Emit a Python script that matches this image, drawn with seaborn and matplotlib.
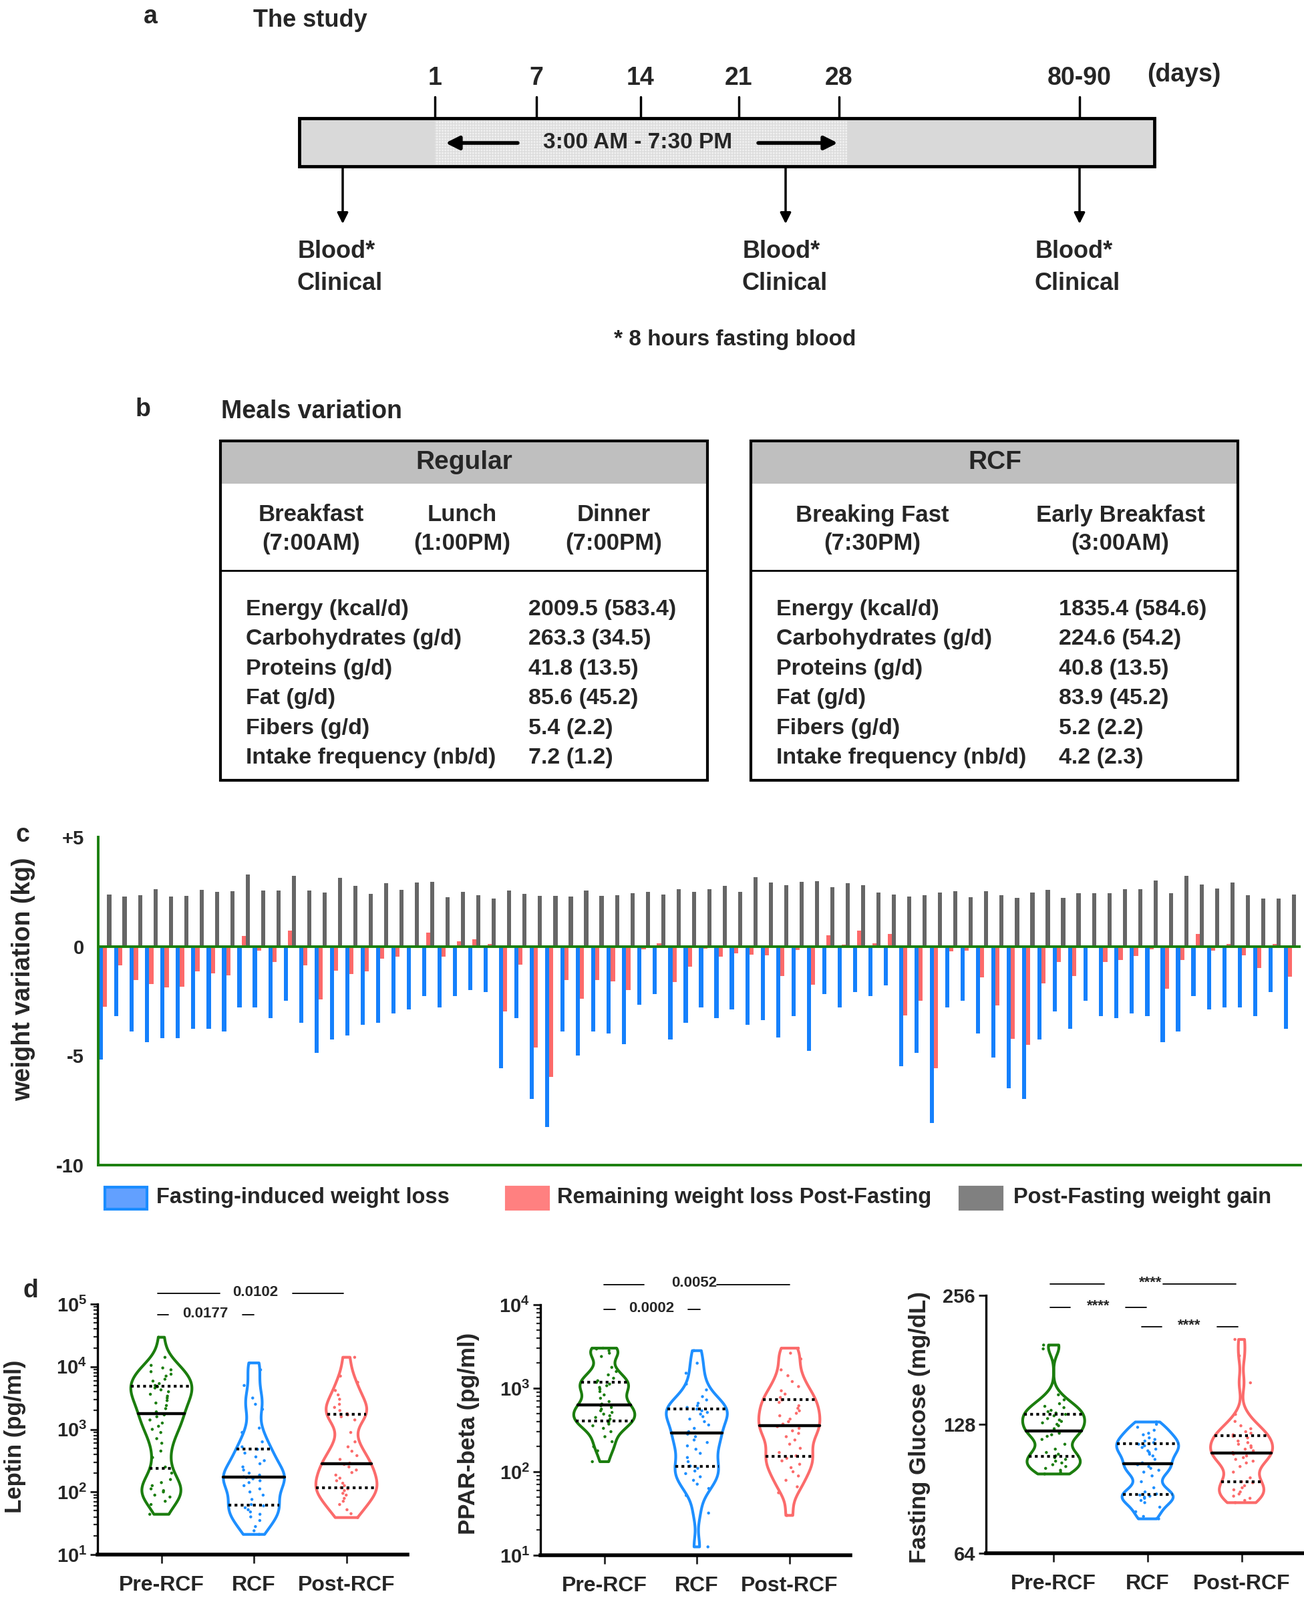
import matplotlib.pyplot as plt
import matplotlib.ticker as mticker
import numpy as np
import pandas as pd
import seaborn as sns
from matplotlib.patches import Rectangle


W, H = 1952, 2395

# ---- panel b: meals table ----
TABLE_ROWS = [
    "Energy (kcal/d)",
    "Carbohydrates (g/d)",
    "Proteins (g/d)",
    "Fat (g/d)",
    "Fibers (g/d)",
    "Intake frequency (nb/d)",
]
REGULAR_VALUES = ["2009.5 (583.4)", "263.3 (34.5)", "41.8 (13.5)", "85.6 (45.2)", "5.4 (2.2)", "7.2 (1.2)"]
RCF_VALUES = ["1835.4 (584.6)", "224.6 (54.2)", "40.8 (13.5)", "83.9 (45.2)", "5.2 (2.2)", "4.2 (2.3)"]
REGULAR_MEALS = [("Breakfast", "(7:00AM)"), ("Lunch", "(1:00PM)"), ("Dinner", "(7:00PM)")]
RCF_MEALS = [("Breaking Fast", "(7:30PM)"), ("Early Breakfast", "(3:00AM)")]

# ---- panel a: timeline ----
DAY_LABELS = ["1", "7", "14", "21", "28", "80-90"]

# ---- panel c: weight variation per participant (kg) ----
FASTING_LOSS = [
    -5.17, -3.18, -3.88, -4.37, -4.19, -4.19, -3.78, -3.78, -3.88, -2.78,
    -2.78, -3.28, -2.48, -3.48, -4.87, -4.27, -4.08, -3.57, -3.48, -3.07,
    -2.89, -2.28, -2.78, -2.28, -1.99, -2.09, -5.57, -3.28, -6.97, -8.26,
    -3.88, -4.98, -3.88, -3.98, -4.48, -2.68, -2.19, -4.27, -3.48, -2.78,
    -3.28, -2.89, -3.58, -3.38, -4.17, -3.18, -4.78, -2.19, -2.78, -2.09,
    -2.28, -1.79, -5.48, -4.87, -8.09, -2.78, -2.48, -3.98, -5.08, -6.48,
    -6.98, -4.27, -2.98, -3.78, -2.48, -3.18, -3.28, -3.08, -3.18, -4.38,
    -3.88, -2.28, -2.89, -2.78, -2.78, -3.18, -2.09, -3.78,
]
REMAINING_LOSS = [
    -2.77, -0.87, -1.53, -1.73, -1.86, -1.84, -1.15, -1.23, -1.32, 0.48,
    -0.20, -0.70, 0.73, -0.86, -2.42, -1.10, -1.27, -1.14, -0.55, -0.47,
    0.05, 0.64, -0.48, 0.22, 0.33, 0.10, -2.98, -0.83, -4.62, -5.96,
    -1.53, -2.40, -1.53, -1.60, -2.00, -0.14, 0.15, -1.64, -0.93, -0.10,
    -0.47, -0.33, -0.37, -0.42, -1.36, -0.17, -1.76, 0.50, 0.09, 0.71,
    0.15, 0.56, -3.17, -2.49, -5.58, -0.23, -0.19, -1.42, -2.71, -4.24,
    -4.49, -1.68, -0.71, -1.34, 0.00, -0.72, -0.62, -0.45, -0.13, -1.95,
    -0.61, 0.57, -0.20, 0.12, -0.42, -0.98, 0.10, -1.38,
]
WEIGHT_GAIN = [
    2.37, 2.28, 2.33, 2.63, 2.28, 2.31, 2.60, 2.50, 2.52, 3.29,
    2.56, 2.55, 3.23, 2.57, 2.45, 3.15, 2.77, 2.40, 2.90, 2.59,
    2.91, 2.94, 2.25, 2.50, 2.34, 2.19, 2.56, 2.40, 2.31, 2.31,
    2.28, 2.56, 2.31, 2.34, 2.44, 2.49, 2.37, 2.61, 2.49, 2.63,
    2.77, 2.50, 3.16, 2.92, 2.80, 2.96, 2.98, 2.70, 2.89, 2.80,
    2.46, 2.36, 2.28, 2.34, 2.46, 2.52, 2.25, 2.52, 2.34, 2.22,
    2.46, 2.58, 2.23, 2.42, 2.44, 2.44, 2.62, 2.61, 3.02, 2.42,
    3.23, 2.84, 2.64, 2.92, 2.35, 2.19, 2.20, 2.37,
]
COMPONENTS = ["Fasting-induced weight loss", "Remaining weight loss Post-Fasting", "Post-Fasting weight gain"]
BAR_COLORS = {COMPONENTS[0]: "#1580fc", COMPONENTS[1]: "#fd6a6a", COMPONENTS[2]: "#666666"}
LEGEND_FILLS = ["#62a0ff", "#ff8080", "#808080"]
LEGEND_EDGES = ["#1a8cff", "#ff8080", "#808080"]

# ---- panel d: biomarkers ----
GROUPS = ["Pre-RCF", "RCF", "Post-RCF"]
VIOLIN_COLORS = {"Pre-RCF": "#1b7d0e", "RCF": "#1e8fff", "Post-RCF": "#fb6b6b"}

LEPTIN_PRE = [44, 63, 71, 83, 89, 100, 105, 112, 126, 141, 158, 200, 250, 355, 450, 600,
              710, 890, 1000, 1120, 1260, 1410, 1590, 1700, 1900, 2140, 2400, 2630, 2880,
              3160, 3390, 3630, 3980, 4270, 4570, 4790, 5010, 5370, 5890, 6310, 7080, 7590,
              8320, 8910, 9550, 10500, 14100, 29500]
LEPTIN_RCF = [21, 24, 28, 35, 40, 44, 48, 52, 56, 60, 63, 76, 89, 100, 112, 126, 141, 151,
              162, 170, 174, 186, 200, 224, 251, 282, 316, 363, 417, 479, 525, 631, 891,
              1047, 2089, 2512, 3162, 5012, 8913, 11480]
LEPTIN_POST = [39, 45, 52, 63, 71, 79, 89, 95, 105, 112, 117, 126, 138, 151, 166, 186, 204,
               224, 251, 275, 288, 331, 380, 447, 525, 631, 891, 1413, 1585, 1698, 1778,
               1995, 2239, 2512, 3020, 3548, 4169, 5623, 7079, 14125]

PPAR_PRE = [132, 178, 200, 229, 263, 302, 331, 355, 372, 389, 407, 427, 447, 468, 490, 513,
            537, 562, 589, 617, 646, 692, 759, 832, 912, 977, 1023, 1072, 1122, 1175, 1230,
            1318, 1445, 1585, 1778, 2399, 2630, 2818, 2951, 3020]
PPAR_RCF = [12.6, 32, 52, 63, 71, 79, 87, 95, 102, 110, 117, 132, 148, 166, 186, 204, 224,
            240, 263, 282, 302, 331, 363, 398, 427, 457, 490, 513, 537, 562, 589, 617, 661,
            724, 794, 955, 1122, 1514, 1995, 2818]
PPAR_POST = [30, 56, 66, 79, 89, 100, 112, 123, 135, 145, 155, 170, 191, 214, 240, 263, 288,
             309, 331, 347, 372, 398, 427, 468, 501, 537, 575, 617, 676, 724, 776, 851, 933,
             1047, 1202, 1413, 1660, 2239, 2630, 3020]

GLUCOSE_PRE = [98, 99, 100, 101, 102, 103, 104, 105, 106, 107, 108, 109, 110, 112, 115, 118,
               120, 121, 122, 123, 124, 125, 127, 128, 129, 130, 131, 132, 134, 135, 136, 137,
               138, 140, 141, 143, 146, 150, 192, 196]
GLUCOSE_RCF = [77, 78, 80, 82, 84, 85, 86, 86.5, 87, 87.5, 88, 89, 91, 94, 97, 99, 100, 101,
               102, 103, 104, 106, 108, 109, 110, 111, 112, 113, 114, 115, 116, 117, 118, 119,
               121, 122, 124, 126, 128, 129.6]
GLUCOSE_POST = [84, 85, 86, 87, 88, 89, 90, 91, 92, 93.5, 94, 96, 99, 102, 104, 105, 106, 107,
                108, 109, 110, 111, 112, 113, 114, 115, 116, 117, 119, 120, 121, 122, 123, 125,
                127, 130, 135, 160, 185, 202]

GREEN = "#1a7f0c"

sns.set_theme(style="white")
plt.rcParams["font.family"] = ["Liberation Sans", "DejaVu Sans"]
plt.rcParams["font.weight"] = "bold"
plt.rcParams["axes.labelweight"] = "bold"
plt.rcParams["mathtext.fontset"] = "custom"
plt.rcParams["mathtext.rm"] = "Liberation Sans:bold"
plt.rcParams["mathtext.bf"] = "Liberation Sans:bold"

fig = plt.figure(figsize=(W / 100, H / 100), dpi=100)

# overlay axes in pixel coordinates for the diagram parts
ov = fig.add_axes([0, 0, 1, 1])
ov.set_xlim(0, W)
ov.set_ylim(H, 0)
ov.axis("off")


def txt(x, y, s, size, ha="left", **kw):
    ov.text(x, y, s, fontsize=size, ha=ha, va="center", fontweight="bold", **kw)


# ===== panel a =====
txt(225, 25, "a", 27, ha="center")
txt(379, 31, "The study", 26)
day_x = [651, 803, 959, 1106, 1256, 1616]
for label, x in zip(DAY_LABELS, day_x):
    txt(x, 117, label, 27, ha="center")
    ov.plot([x, x], [145, 177], color="black", lw=2.5)
txt(1772, 112, "(days)", 27, ha="center")
ov.add_patch(Rectangle((448, 177), 1280, 72, facecolor="#d9d9d9", edgecolor="black", lw=3.5, zorder=2))
ov.add_patch(Rectangle((651, 180), 617, 66, facecolor="#f0f0f0", edgecolor="#dcdcdc",
                       hatch="++++", lw=0, zorder=2))
txt(955, 214, "3:00 AM - 7:30 PM", 24, ha="center", zorder=3)
arrow_kw = dict(arrowstyle="-|>", color="black", lw=4, mutation_scale=30, shrinkA=0, shrinkB=0)
ov.annotate("", xy=(667, 214), xytext=(775, 214), arrowprops=arrow_kw, zorder=3)
ov.annotate("", xy=(1254, 214), xytext=(1135, 214), arrowprops=arrow_kw, zorder=3)
down_kw = dict(arrowstyle="-|>", color="black", lw=2.5, mutation_scale=24, shrinkA=0, shrinkB=0)
for x, tx in [(513, 446), (1176, 1112), (1616, 1550)]:
    ov.annotate("", xy=(x, 335), xytext=(x, 251), arrowprops=down_kw)
    txt(tx, 376, "Blood*", 26)
    txt(tx - 1, 425, "Clinical", 26)
txt(1100, 508, "* 8 hours fasting blood", 24, ha="center")

# ===== panel b =====
txt(214, 613, "b", 27, ha="center")
txt(331, 616, "Meals variation", 27)
for bx, title, meals, meal_x, values, val_x in [
    (330, "Regular", REGULAR_MEALS, [466, 692, 919], REGULAR_VALUES, 791),
    (1124, "RCF", RCF_MEALS, [1306, 1677], RCF_VALUES, 1585),
]:
    ov.add_patch(Rectangle((bx, 660), 729, 64, facecolor="#bfbfbf", edgecolor="none"))
    ov.add_patch(Rectangle((bx, 660), 729, 508, facecolor="none", edgecolor="black", lw=3))
    ov.plot([bx, bx + 729], [854, 854], color="black", lw=2)
    txt(bx + 365, 692, title, 28, ha="center")
    for (name, time), mx in zip(meals, meal_x):
        txt(mx, 771, name, 25, ha="center")
        txt(mx, 813, time, 25, ha="center")
    for k, (row, val) in enumerate(zip(TABLE_ROWS, values)):
        y = 912 + k * 44.6
        txt(bx + 38, y, row, 24.5)
        txt(val_x, y, val, 24.5)

# ===== panel c =====
n = len(FASTING_LOSS)
weight_df = pd.DataFrame({
    "participant": np.tile(np.arange(n), 3),
    "component": np.repeat(COMPONENTS, n),
    "kg": FASTING_LOSS + REMAINING_LOSS + WEIGHT_GAIN,
})
axc = fig.add_axes([147 / W, 1 - 1744 / H, 1800 / W, 491 / H])
axc.set_facecolor("none")
sns.barplot(data=weight_df, x="participant", y="kg", hue="component", hue_order=COMPONENTS,
            palette=BAR_COLORS, width=0.8, dodge=True, errorbar=None, saturation=1,
            legend=False, linewidth=0, ax=axc)
axc.axhline(0, color=GREEN, lw=2.8, zorder=5)
axc.set_xlim(-0.45, n - 0.3)
axc.set_ylim(-10, 5)
axc.set_xticks([])
axc.set_xlabel("")
axc.set_yticks(np.arange(-10, 6))
axc.set_yticklabels(["+5" if v == 5 else (str(v) if v % 5 == 0 else "") for v in range(-10, 6)])
axc.tick_params(axis="y", length=9, width=2.2, color=GREEN, labelsize=21, pad=6, direction="out")
for side in ["top", "right"]:
    axc.spines[side].set_visible(False)
for side in ["left", "bottom"]:
    axc.spines[side].set_color(GREEN)
    axc.spines[side].set_linewidth(2.8)
axc.set_ylabel("weight variation (kg)", fontsize=27, fontweight="bold")
axc.yaxis.set_label_coords(-0.052, 0.566)
txt(34, 1250, "c", 27, ha="center")

legend_x = [(157, 234), (758, 834), (1437, 1517)]
for (px, tx), label, fc, ec in zip(legend_x, COMPONENTS, LEGEND_FILLS, LEGEND_EDGES):
    ov.add_patch(Rectangle((px, 1777), 63, 33, facecolor=fc, edgecolor=ec, lw=3))
    txt(tx, 1793, label, 23.5)


# ===== panel d =====
def violin_panel(rect, groups, log_base, ylim, ylabel, label_xy):
    ax = fig.add_axes(rect)
    ax.set_facecolor("none")
    df = pd.DataFrame({
        "group": np.repeat(GROUPS, [len(g) for g in groups]),
        "value": np.concatenate(groups),
    })
    sns.stripplot(data=df, x="group", y="value", hue="group", palette=VIOLIN_COLORS,
                  size=3.2, jitter=0.13, log_scale=log_base, legend=False, ax=ax, zorder=2)
    sns.violinplot(data=df, x="group", y="value", hue="group", palette=VIOLIN_COLORS,
                   fill=False, cut=0, inner="quart", linewidth=3, width=0.66,
                   density_norm="width", bw_adjust=0.55, log_scale=log_base,
                   legend=False, ax=ax)
    for k, line in enumerate(ax.lines):
        line.set_color("black")
        line.set_zorder(6)
        if k % 3 == 1:
            line.set_linestyle("-")
            line.set_linewidth(3.2)
        else:
            line.set_linestyle((0, (1, 1.2)))
            line.set_linewidth(3)
    ax.set_xlim(-0.69, 2.66)
    ax.set_ylim(*ylim)
    ax.set_xlabel("")
    ax.set_ylabel(ylabel, fontsize=25, fontweight="bold")
    ax.yaxis.set_label_coords(*label_xy)
    for side in ["top", "right"]:
        ax.spines[side].set_visible(False)
    ax.spines["left"].set_linewidth(2.4)
    ax.spines["bottom"].set_linewidth(4)
    for side in ["left", "bottom"]:
        ax.spines[side].set_color("black")
    ax.tick_params(axis="x", length=9, width=2, labelsize=23, pad=13, direction="out", bottom=True)
    ax.tick_params(axis="y", which="major", length=8, width=2.2, labelsize=21, direction="out", left=True)
    ax.tick_params(axis="y", which="minor", length=4.5, width=1.6, direction="out", left=True)
    return ax


def log10_labels(ax, lo, hi):
    ax.yaxis.set_major_locator(mticker.FixedLocator([10.0 ** e for e in range(lo, hi + 1)]))
    ax.yaxis.set_major_formatter(mticker.FixedFormatter(
        [r"$\mathbf{10^{%d}}$" % e for e in range(lo, hi + 1)]))
    ax.yaxis.set_minor_locator(mticker.LogLocator(base=10, subs=np.arange(2, 10)))
    ax.yaxis.set_minor_formatter(mticker.NullFormatter())


ax_lep = violin_panel([146 / W, 1 - 2327 / H, 464 / W, 375 / H],
                      [LEPTIN_PRE, LEPTIN_RCF, LEPTIN_POST], 10, (10, 1e5),
                      "Leptin (pg/ml)", (-0.23, 0.472))
log10_labels(ax_lep, 1, 5)

ax_ppar = violin_panel([809 / W, 1 - 2328 / H, 464 / W, 375 / H],
                       [PPAR_PRE, PPAR_RCF, PPAR_POST], 10, (10, 1e4),
                       "PPAR-beta (pg/ml)", (-0.196, 0.485))
log10_labels(ax_ppar, 1, 4)

ax_glu = violin_panel([1476 / W, 1 - 2325 / H, 474 / W, 386 / H],
                      [GLUCOSE_PRE, GLUCOSE_RCF, GLUCOSE_POST], 2, (64, 256),
                      "Fasting Glucose (mg/dL)", (-0.175, 0.488))
ax_glu.yaxis.set_major_locator(mticker.FixedLocator([64, 128, 256]))
ax_glu.yaxis.set_major_formatter(mticker.FixedFormatter(["64", "128", "256"]))
ax_glu.yaxis.set_minor_locator(mticker.NullLocator())
ax_glu.set_xlim(-0.72, 2.65)

txt(46, 1932, "d", 27, ha="center")

# significance brackets: (left segment, right segment, label, label x, y)
SIG_MARKS = [
    ((236, 329), (438, 514), "0.0102", 382, 1936),
    ((236, 252), (363, 380), "0.0177", 307, 1968),
    ((904, 964), (1073, 1182), "0.0052", 1039, 1923),
    ((904, 921), (1030, 1048), "0.0002", 975, 1960),
    ((1572, 1653), (1741, 1850), "****", 1722, 1922),
    ((1572, 1602), (1685, 1716), "****", 1644, 1957),
    ((1709, 1739), (1822, 1853), "****", 1780, 1986),
]
for (l0, l1), (r0, r1), label, lx, y in SIG_MARKS:
    ov.plot([l0, l1], [y, y], color="black", lw=1.3)
    ov.plot([r0, r1], [y, y], color="black", lw=1.3)
    txt(lx, y - 2, label, 16, ha="center")

fig.savefig("out.png", dpi=100)
